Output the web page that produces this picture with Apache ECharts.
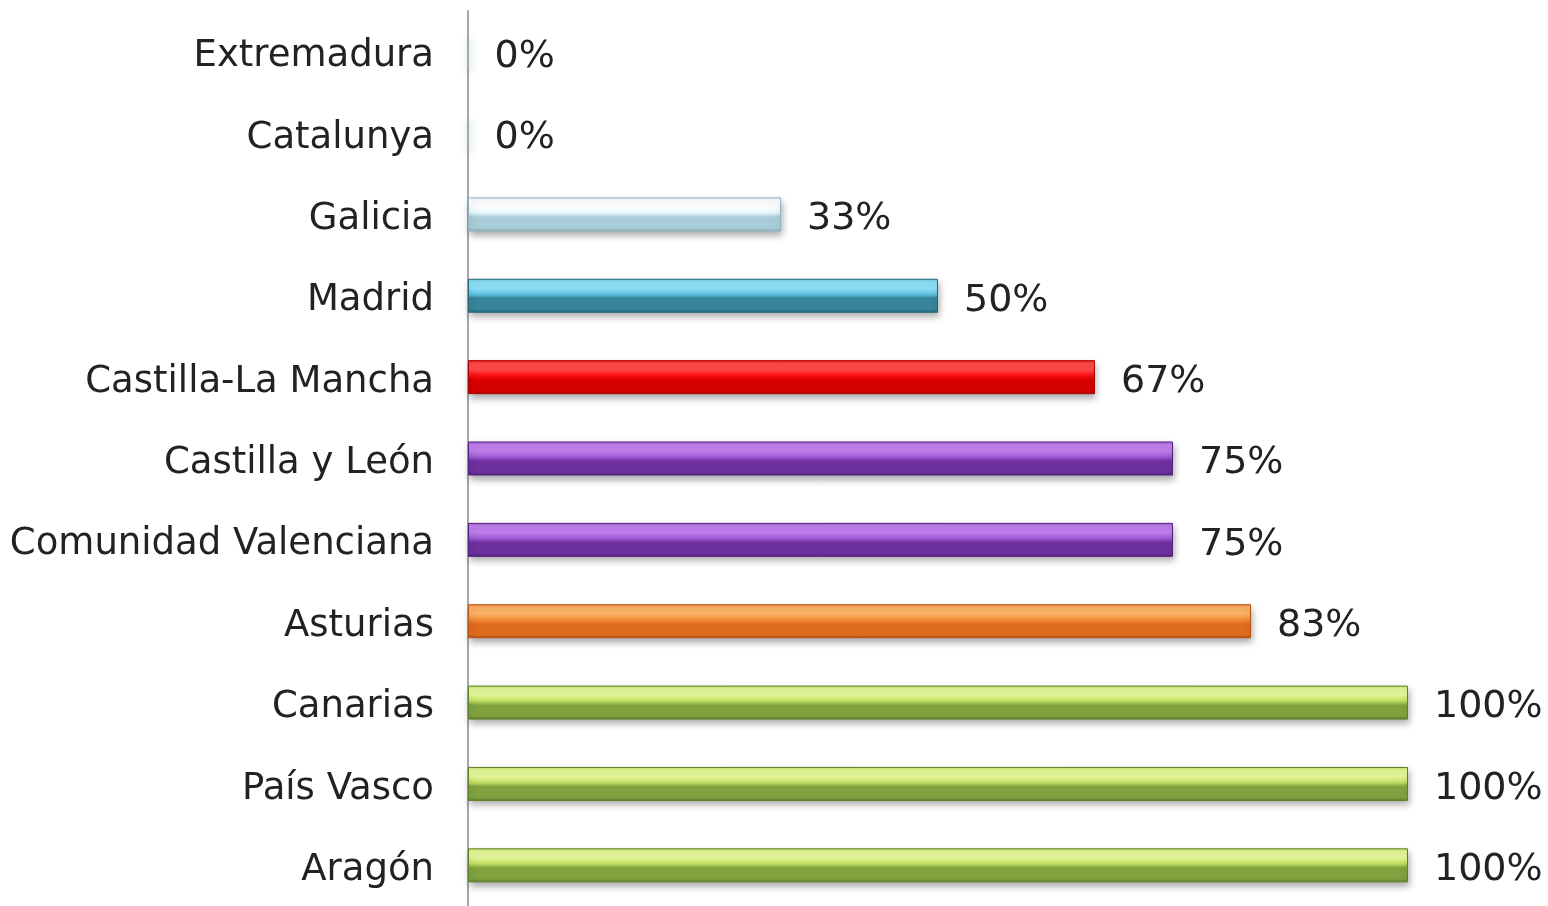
<!DOCTYPE html>
<html>
<head>
<meta charset="utf-8">
<script src="https://cdn.jsdelivr.net/npm/echarts@6/dist/echarts.min.js"></script>
<style>
html,body{margin:0;padding:0;background:#fff;}
#chart{width:1548px;height:906px;}
</style>
</head>
<body>
<div id="chart"></div>
<script>
// Categories, top to bottom
const categories = ['Extremadura','Catalunya','Galicia','Madrid','Castilla-La Mancha','Castilla y León','Comunidad Valenciana','Asturias','Canarias','País Vasco','Aragón'];
// Share (fraction of 1)
const values = [0, 0, 0.333, 0.5, 0.667, 0.75, 0.75, 0.833, 1, 1, 1];
// Bar colour ramps
const barTop    = ['#ffffff','#ffffff','#ffffff','#8ee2f7','#ff4a4a','#c080ee','#c080ee','#fcb468','#e6f89a','#e6f89a','#e6f89a'];
const barMid    = ['#e6f5f9','#e6f5f9','#e8f7fb','#5fc4e0','#fa1010','#a05ad4','#a05ad4','#f48c38','#c0df62','#c0df62','#c0df62'];
const barBottom = ['#aacdd8','#aacdd8','#a9cdd8','#37849a','#d60000','#6d309e','#6d309e','#df6c1d','#7fa23f','#7fa23f','#7fa23f'];
const barEdge   = ['#8fb2bd','#8fb2bd','#8fb2bd','#28687a','#a80000','#55217c','#55217c','#b45214','#5f7f2c','#5f7f2c','#5f7f2c'];

const chart = echarts.init(document.getElementById('chart'), null, {renderer:'canvas'});
const data = values.map((v, i) => ({
  value: v,
  itemStyle: {
    color: new echarts.graphic.LinearGradient(0, 0, 0, 1, [
      {offset: 0, color: barMid[i]},
      {offset: 0.1, color: barTop[i]},
      {offset: 0.28, color: barTop[i]},
      {offset: 0.45, color: barMid[i]},
      {offset: 0.58, color: barBottom[i]},
      {offset: 0.9, color: barBottom[i]},
      {offset: 1, color: barEdge[i]}
    ]),
    borderColor: barEdge[i],
    borderWidth: 1,
    shadowColor: 'rgba(0,0,0,0.35)',
    shadowBlur: 7,
    shadowOffsetY: 4,
    shadowOffsetX: 1
  }
}));

chart.setOption({
  animation: false,
  backgroundColor: '#ffffff',
  grid: {left: 468, right: 140, top: 11, height: 907, containLabel: false},
  xAxis: {
    type: 'value', min: 0, max: 1,
    show: false
  },
  yAxis: {
    type: 'category',
    data: categories,
    inverse: true,
    axisLine: {show: true, lineStyle: {color: '#a6a6a6', width: 2}},
    axisTick: {show: false},
    axisLabel: {
      margin: 34,
      formatter: v => '{a|' + v + '}',
      rich: {
        a: {
          fontFamily: 'DejaVu Sans',
          fontSize: 37,
          color: '#222222',
          padding: [10, 0, 0, 0]
        }
      }
    }
  },
  series: [{
    type: 'bar',
    data: data,
    barWidth: 34,
    label: {
      show: true,
      position: 'right',
      distance: 26,
      offset: [0, 5],
      fontFamily: 'DejaVu Sans',
      fontSize: 38,
      color: '#222222',
      formatter: p => Math.round(p.value * 100) + '%'
    }
  }]
});
</script>
</body>
</html>
